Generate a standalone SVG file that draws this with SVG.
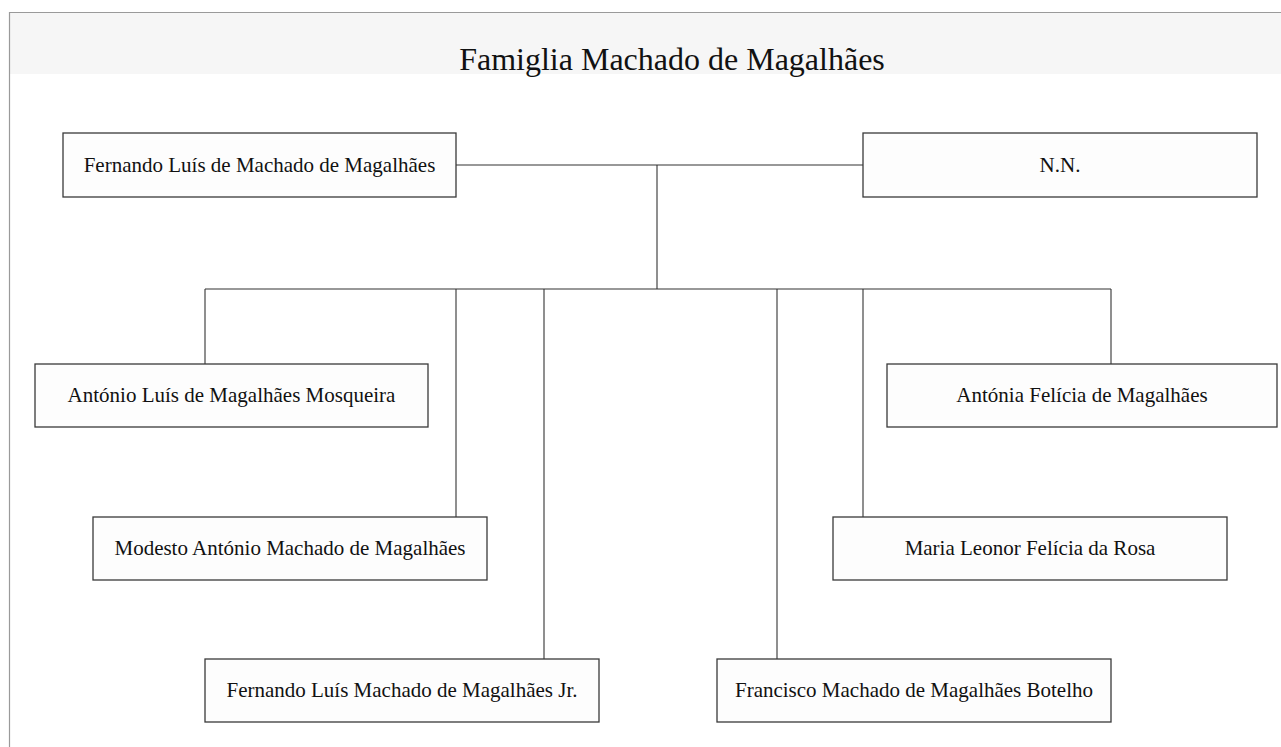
<svg xmlns="http://www.w3.org/2000/svg" width="1281" height="747" viewBox="0 0 1281 747">
<style>
.box{fill:#fdfdfd;stroke:#3a3a3a;stroke-width:1.3}
.lbl{font-family:"Liberation Serif","Times New Roman",serif;font-size:21px;fill:#111;text-anchor:middle}
.ttl{font-family:"Liberation Serif","Times New Roman",serif;font-size:32px;fill:#111;text-anchor:middle}
.con{stroke:#333;stroke-width:1.1;fill:none}
</style>
<rect x="0" y="0" width="1281" height="747" fill="#ffffff"/>
<rect x="10" y="13" width="1271" height="61" fill="#f6f6f6"/>
<path d="M9.5 747 V12.5 H1281" fill="none" stroke="#9a9a9a" stroke-width="1.2"/>
<text class="ttl" x="672" y="70">Famiglia Machado de Magalhães</text>
<g id="connectors">
<path class="con" d="M456 165 H863"/>
<path class="con" d="M657 165 V289"/>
<path class="con" d="M205 289 H1111"/>
<path class="con" d="M205 289 V364"/>
<path class="con" d="M456 289 V517"/>
<path class="con" d="M544 289 V659"/>
<path class="con" d="M777 289 V659"/>
<path class="con" d="M863 289 V517"/>
<path class="con" d="M1111 289 V364"/>
</g>
<g id="n1"><rect class="box" x="63" y="133" width="393" height="64"/><text class="lbl" x="259.5" y="172">Fernando Luís de Machado de Magalhães</text></g>
<g id="n2"><rect class="box" x="863" y="133" width="394" height="64"/><text class="lbl" x="1060" y="172">N.N.</text></g>
<g id="n3"><rect class="box" x="35" y="364" width="393" height="63"/><text class="lbl" x="231.5" y="402">António Luís de Magalhães Mosqueira</text></g>
<g id="n4"><rect class="box" x="887" y="364" width="390" height="63"/><text class="lbl" x="1082" y="402">Antónia Felícia de Magalhães</text></g>
<g id="n5"><rect class="box" x="93" y="517" width="394" height="63"/><text class="lbl" x="290" y="555">Modesto António Machado de Magalhães</text></g>
<g id="n6"><rect class="box" x="833" y="517" width="394" height="63"/><text class="lbl" x="1030" y="555">Maria Leonor Felícia da Rosa</text></g>
<g id="n7"><rect class="box" x="205" y="659" width="394" height="63"/><text class="lbl" x="402" y="697">Fernando Luís Machado de Magalhães Jr.</text></g>
<g id="n8"><rect class="box" x="717" y="659" width="394" height="63"/><text class="lbl" x="914" y="697">Francisco Machado de Magalhães Botelho</text></g>
</svg>
